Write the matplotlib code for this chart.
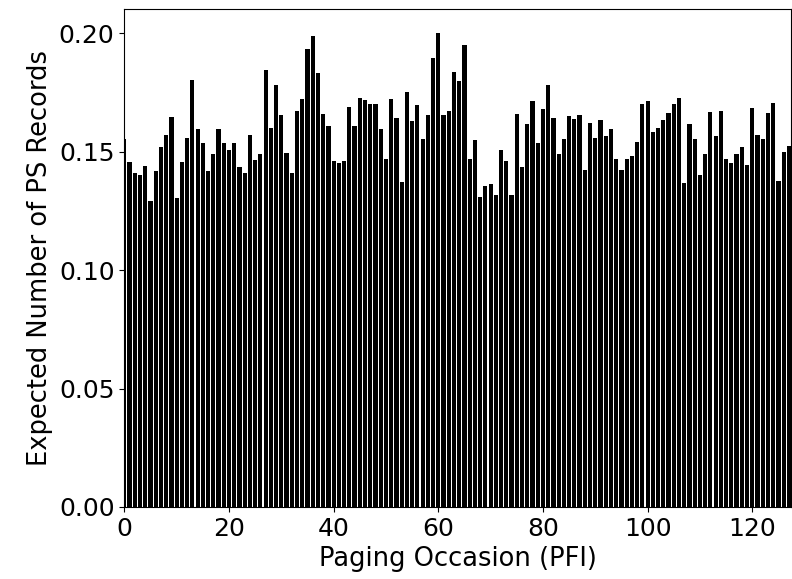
import numpy as np
import matplotlib.pyplot as plt
from matplotlib.ticker import MultipleLocator, FormatStrFormatter

# expected number of PS records per paging occasion
pfi = np.arange(128)
expected = [
    0.1556, 0.1459, 0.1412, 0.1401, 0.1442, 0.1294, 0.1418, 0.1522, 0.1572, 0.1646,
    0.1305, 0.1459, 0.1557, 0.1805, 0.1595, 0.1539, 0.1419, 0.1492, 0.1595, 0.1539,
    0.1509, 0.1539, 0.1436, 0.1412, 0.1572, 0.1464, 0.1492, 0.1844, 0.1601, 0.1781,
    0.1657, 0.1497, 0.1412, 0.1674, 0.1724, 0.1934, 0.1990, 0.1833, 0.1661, 0.1610,
    0.1463, 0.1451, 0.1463, 0.1691, 0.1610, 0.1729, 0.1719, 0.1702, 0.1702, 0.1595,
    0.1468, 0.1724, 0.1644, 0.1373, 0.1754, 0.1629, 0.1696, 0.1556, 0.1657, 0.1895,
    0.2003, 0.1657, 0.1674, 0.1838, 0.1799, 0.1952, 0.1470, 0.1549, 0.1311, 0.1356,
    0.1362, 0.1316, 0.1509, 0.1463, 0.1316, 0.1661, 0.1436, 0.1617, 0.1713, 0.1537,
    0.1679, 0.1781, 0.1644, 0.1492, 0.1556, 0.1651, 0.1640, 0.1657, 0.1423, 0.1623,
    0.1560, 0.1634, 0.1565, 0.1595, 0.1470, 0.1423, 0.1470, 0.1481, 0.1543, 0.1702,
    0.1713, 0.1582, 0.1599, 0.1634, 0.1662, 0.1702, 0.1729, 0.1367, 0.1617, 0.1556,
    0.1401, 0.1492, 0.1668, 0.1565, 0.1674, 0.1470, 0.1451, 0.1492, 0.1520, 0.1446,
    0.1685, 0.1571, 0.1556, 0.1662, 0.1708, 0.1378, 0.1498, 0.1526,
]

fig, ax = plt.subplots(figsize=(7.92, 5.79), dpi=100)
fig.subplots_adjust(left=0.157, right=0.9987, top=0.9845, bottom=0.1244)

ax.bar(pfi, expected, width=0.8, color='k')
ax.set_xlim(0, 127.4)
ax.yaxis.set_major_locator(MultipleLocator(0.05))
ax.yaxis.set_major_formatter(FormatStrFormatter('%.2f'))
ax.set_xlabel("Paging Occasion (PFI)", fontsize=18.5)
ax.set_ylabel("Expected Number of PS Records", fontsize=18.5)
ax.tick_params(labelsize=18)

plt.savefig("out.png")
